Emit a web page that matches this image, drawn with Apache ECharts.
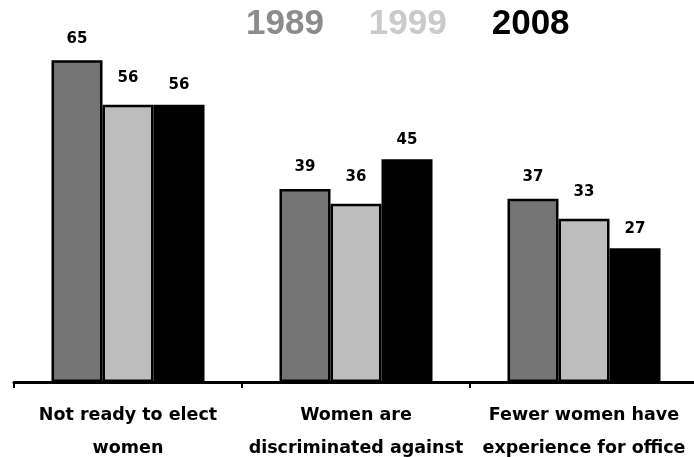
<!DOCTYPE html>
<html>
<head>
<meta charset="utf-8">
<style>
  html, body { margin: 0; padding: 0; background: #fff; }
  #chart { width: 694px; height: 457px; }
</style>
<script src="https://cdn.jsdelivr.net/npm/echarts@6/dist/echarts.min.js"></script>
</head>
<body>
<div id="chart"></div>
<script>
const categories = ['Not ready to elect\nwomen', 'Women are\ndiscriminated against', 'Fewer women have\nexperience for office']
const years = ['1989', '1999', '2008']
const values1989 = [65, 39, 37]
const values1999 = [56, 36, 33]
const values2008 = [56, 45, 27]

const chart = echarts.init(document.getElementById('chart'))

const barColors = ['#747474', '#bdbdbd', '#000000']
const legendColors = ['#8c8c8c', '#cacaca', '#000000']
const labelDistance = [14, 19, 12]
const allValues = [values1989, values1999, values2008]

const option = {
  backgroundColor: '#fff',
  animation: false,
  legend: {
    left: 235,
    top: 2,
    itemWidth: 0,
    itemHeight: 0,
    itemGap: 39,
    icon: 'rect',
    data: years.map((y, i) => ({
      name: y,
      textStyle: { color: legendColors[i] },
    })),
    textStyle: {
      fontFamily: 'Liberation Sans',
      fontWeight: 'bold',
      fontSize: 35,
    },
  },
  grid: {
    left: 14,
    right: -4,
    top: 35.5,
    bottom: 75,
    outerBoundsMode: 'none',
  },
  xAxis: {
    type: 'category',
    data: categories,
    axisLine: { show: true, lineStyle: { color: '#000', width: 3 } },
    axisTick: { show: true, length: 6, lineStyle: { color: '#000', width: 2 } },
    axisLabel: {
      color: '#000',
      fontFamily: 'DejaVu Sans',
      fontWeight: 'bold',
      fontSize: 17.5,
      lineHeight: 33,
      margin: 17,
      interval: 0,
    },
  },
  yAxis: {
    type: 'value',
    min: 0,
    max: 70,
    show: false,
    splitLine: { show: false },
  },
  series: years.map((y, i) => ({
    name: y,
    type: 'bar',
    barWidth: 51,
    barGap: '0%',
    itemStyle: { color: barColors[i], borderColor: '#000', borderWidth: 2.5 },
    label: {
      show: true,
      position: 'top',
      distance: labelDistance[i],
      color: '#000',
      fontFamily: 'DejaVu Sans',
      fontWeight: 'bold',
      fontSize: 15,
    },
    data: allValues[i],
  })),
}

chart.setOption(option)
</script>
</body>
</html>
